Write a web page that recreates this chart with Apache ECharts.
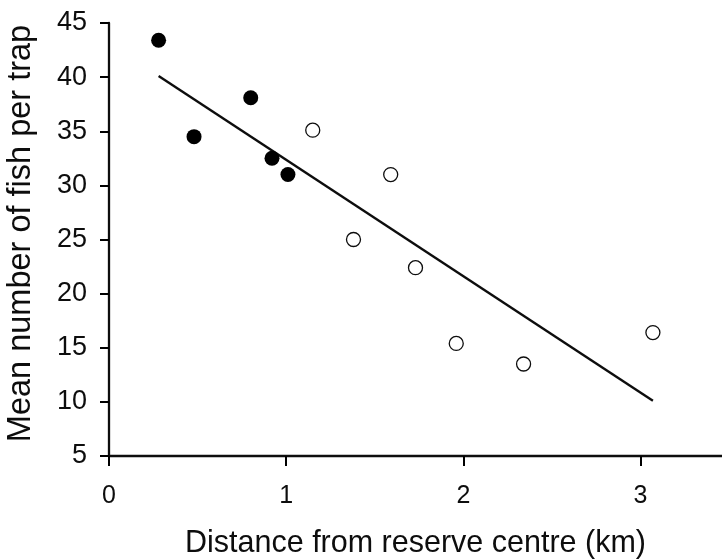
<!DOCTYPE html>
<html>
<head>
<meta charset="utf-8">
<script src="https://cdn.jsdelivr.net/npm/echarts@6/dist/echarts.min.js"></script>
<style>html,body{margin:0;padding:0;background:#fff;}#c{width:722px;height:560px;}</style>
</head>
<body>
<div id="c"></div>
<script>
// Data
const insideDist = [0.28, 0.48, 0.80, 0.92, 1.01];
const insideFish = [43.4, 34.5, 38.1, 32.5, 31.0];
const outsideDist = [1.15, 1.38, 1.59, 1.73, 1.96, 2.34, 3.07];
const outsideFish = [35.1, 25.0, 31.0, 22.4, 15.4, 13.5, 16.4];
const fitDist = [0.28, 3.07];
const fitFish = [40.1, 10.1];
const xTicks = [0, 1, 2, 3];
const xTitle = 'Distance from reserve centre (km)';
const yTitle = 'Mean number of fish per trap';

const zip = (a, b) => a.map((v, i) => [v, b[i]]);
const ink = '#0d0d0d';
const chart = echarts.init(document.getElementById('c'), null, {renderer: 'canvas'});
chart.setOption({
  animation: false,
  backgroundColor: '#fff',
  grid: {left: 109, right: 0, top: 23, bottom: 104, containLabel: false, outerBoundsMode: 'none'},
  xAxis: {
    type: 'value', min: 0, max: 3.46, interval: 1,
    name: xTitle, nameLocation: 'middle', nameGap: 72,
    nameTextStyle: {fontFamily: 'Liberation Sans', fontSize: 30.5, color: ink},
    axisLine: {show: true, onZero: false, lineStyle: {color: ink, width: 2.3}},
    axisTick: {show: true, length: 10, customValues: xTicks, lineStyle: {color: '#000', width: 2}},
    axisLabel: {margin: 28, fontFamily: 'Liberation Sans', fontSize: 25, color: ink, customValues: xTicks,
      formatter: v => (Math.abs(v - Math.round(v)) < 1e-6 ? String(Math.round(v)) : '')},
    splitLine: {show: false}
  },
  yAxis: {
    type: 'value', min: 5, max: 45, interval: 5,
    name: yTitle, nameLocation: 'middle', nameGap: 71, nameRotate: 90,
    nameTextStyle: {fontFamily: 'Liberation Sans', fontSize: 32.5, color: ink, padding: [0, 0, 0, 12]},
    axisLine: {show: true, onZero: false, lineStyle: {color: ink, width: 2.3}},
    axisTick: {show: true, length: 9, lineStyle: {color: '#000', width: 2}},
    axisLabel: {margin: 22, fontFamily: 'Liberation Sans', fontSize: 27, color: ink},
    splitLine: {show: false}
  },
  series: [
    {
      type: 'line', data: zip(fitDist, fitFish), symbol: 'none',
      lineStyle: {color: ink, width: 2.4}, z: 1
    },
    {
      type: 'scatter', data: zip(insideDist, insideFish), symbol: 'circle', symbolSize: 15,
      itemStyle: {color: '#000', opacity: 1}, z: 3
    },
    {
      type: 'scatter', data: zip(outsideDist, outsideFish), symbol: 'circle', symbolSize: 14,
      itemStyle: {color: '#fff', borderColor: ink, borderWidth: 1.3, opacity: 1}, z: 3
    }
  ]
});
</script>
</body>
</html>
